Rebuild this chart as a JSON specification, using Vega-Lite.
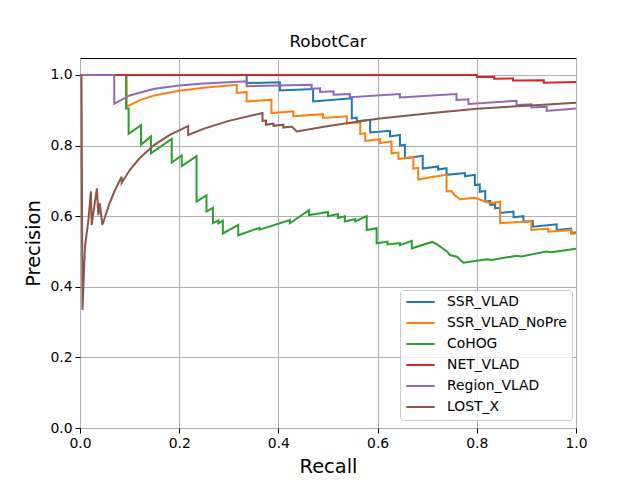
{
"$schema": "https://vega.github.io/schema/vega-lite/v6.json",
"width": 496, "height": 370,
"autosize": {"type": "none"},
"padding": {"left": 80, "top": 58, "right": 64, "bottom": 52},
"background": "white",
"title": {"text": "RobotCar", "font": "DejaVu Sans", "fontSize": 16.7, "fontWeight": "normal", "color": "black", "offset": 7},
"config": {
  "view": {"stroke": "black", "strokeWidth": 1},
  "axis": {"domain": false, "labelFlush": false, "tickColor": "black", "tickSize": 5, "tickWidth": 1, "labelFont": "DejaVu Sans", "labelFontSize": 13.9, "labelColor": "black", "labelPadding": 3, "titleFont": "DejaVu Sans", "titleFontSize": 19.4, "titleFontWeight": "normal", "titleColor": "black", "gridColor": "#b0b0b0", "gridWidth": 1, "gridOpacity": 1}
},
"data": {"values": [
{"s":"SSR_VLAD","r":0,"p":1},{"s":"SSR_VLAD","r":0.336,"p":1},{"s":"SSR_VLAD","r":0.336,"p":0.977},{"s":"SSR_VLAD","r":0.403,"p":0.979},{"s":"SSR_VLAD","r":0.403,"p":0.956},{"s":"SSR_VLAD","r":0.47,"p":0.96},{"s":"SSR_VLAD","r":0.47,"p":0.925},{"s":"SSR_VLAD","r":0.548,"p":0.934},{"s":"SSR_VLAD","r":0.548,"p":0.877},{"s":"SSR_VLAD","r":0.558,"p":0.879},{"s":"SSR_VLAD","r":0.558,"p":0.869},{"s":"SSR_VLAD","r":0.585,"p":0.873},{"s":"SSR_VLAD","r":0.585,"p":0.837},{"s":"SSR_VLAD","r":0.625,"p":0.842},{"s":"SSR_VLAD","r":0.625,"p":0.826},{"s":"SSR_VLAD","r":0.645,"p":0.83},{"s":"SSR_VLAD","r":0.645,"p":0.8},{"s":"SSR_VLAD","r":0.655,"p":0.802},{"s":"SSR_VLAD","r":0.655,"p":0.764},{"s":"SSR_VLAD","r":0.691,"p":0.771},{"s":"SSR_VLAD","r":0.691,"p":0.735},{"s":"SSR_VLAD","r":0.722,"p":0.741},{"s":"SSR_VLAD","r":0.722,"p":0.732},{"s":"SSR_VLAD","r":0.739,"p":0.736},{"s":"SSR_VLAD","r":0.739,"p":0.717},{"s":"SSR_VLAD","r":0.776,"p":0.722},{"s":"SSR_VLAD","r":0.776,"p":0.713},{"s":"SSR_VLAD","r":0.796,"p":0.717},{"s":"SSR_VLAD","r":0.796,"p":0.688},{"s":"SSR_VLAD","r":0.806,"p":0.69},{"s":"SSR_VLAD","r":0.806,"p":0.669},{"s":"SSR_VLAD","r":0.817,"p":0.671},{"s":"SSR_VLAD","r":0.817,"p":0.641},{"s":"SSR_VLAD","r":0.827,"p":0.643},{"s":"SSR_VLAD","r":0.827,"p":0.632},{"s":"SSR_VLAD","r":0.837,"p":0.634},{"s":"SSR_VLAD","r":0.837,"p":0.622},{"s":"SSR_VLAD","r":0.847,"p":0.624},{"s":"SSR_VLAD","r":0.847,"p":0.609},{"s":"SSR_VLAD","r":0.874,"p":0.613},{"s":"SSR_VLAD","r":0.874,"p":0.597},{"s":"SSR_VLAD","r":0.894,"p":0.6},{"s":"SSR_VLAD","r":0.894,"p":0.584},{"s":"SSR_VLAD","r":0.913,"p":0.586},{"s":"SSR_VLAD","r":0.913,"p":0.57},{"s":"SSR_VLAD","r":0.961,"p":0.577},{"s":"SSR_VLAD","r":0.961,"p":0.561},{"s":"SSR_VLAD","r":0.99,"p":0.565},{"s":"SSR_VLAD","r":0.99,"p":0.553},{"s":"SSR_VLAD","r":1.0,"p":0.554},
{"s":"SSR_VLAD_NoPre","r":0,"p":1},{"s":"SSR_VLAD_NoPre","r":0.094,"p":1},{"s":"SSR_VLAD_NoPre","r":0.094,"p":0.91},{"s":"SSR_VLAD_NoPre","r":0.12,"p":0.928},{"s":"SSR_VLAD_NoPre","r":0.15,"p":0.942},{"s":"SSR_VLAD_NoPre","r":0.2,"p":0.955},{"s":"SSR_VLAD_NoPre","r":0.25,"p":0.964},{"s":"SSR_VLAD_NoPre","r":0.316,"p":0.972},{"s":"SSR_VLAD_NoPre","r":0.316,"p":0.949},{"s":"SSR_VLAD_NoPre","r":0.336,"p":0.952},{"s":"SSR_VLAD_NoPre","r":0.336,"p":0.925},{"s":"SSR_VLAD_NoPre","r":0.386,"p":0.93},{"s":"SSR_VLAD_NoPre","r":0.386,"p":0.892},{"s":"SSR_VLAD_NoPre","r":0.43,"p":0.897},{"s":"SSR_VLAD_NoPre","r":0.43,"p":0.883},{"s":"SSR_VLAD_NoPre","r":0.49,"p":0.889},{"s":"SSR_VLAD_NoPre","r":0.49,"p":0.878},{"s":"SSR_VLAD_NoPre","r":0.538,"p":0.883},{"s":"SSR_VLAD_NoPre","r":0.538,"p":0.863},{"s":"SSR_VLAD_NoPre","r":0.565,"p":0.866},{"s":"SSR_VLAD_NoPre","r":0.565,"p":0.833},{"s":"SSR_VLAD_NoPre","r":0.575,"p":0.835},{"s":"SSR_VLAD_NoPre","r":0.575,"p":0.813},{"s":"SSR_VLAD_NoPre","r":0.605,"p":0.818},{"s":"SSR_VLAD_NoPre","r":0.605,"p":0.807},{"s":"SSR_VLAD_NoPre","r":0.628,"p":0.812},{"s":"SSR_VLAD_NoPre","r":0.628,"p":0.778},{"s":"SSR_VLAD_NoPre","r":0.642,"p":0.78},{"s":"SSR_VLAD_NoPre","r":0.642,"p":0.762},{"s":"SSR_VLAD_NoPre","r":0.672,"p":0.768},{"s":"SSR_VLAD_NoPre","r":0.672,"p":0.735},{"s":"SSR_VLAD_NoPre","r":0.682,"p":0.737},{"s":"SSR_VLAD_NoPre","r":0.682,"p":0.704},{"s":"SSR_VLAD_NoPre","r":0.71,"p":0.711},{"s":"SSR_VLAD_NoPre","r":0.739,"p":0.717},{"s":"SSR_VLAD_NoPre","r":0.739,"p":0.67},{"s":"SSR_VLAD_NoPre","r":0.749,"p":0.671},{"s":"SSR_VLAD_NoPre","r":0.755,"p":0.66},{"s":"SSR_VLAD_NoPre","r":0.766,"p":0.648},{"s":"SSR_VLAD_NoPre","r":0.796,"p":0.652},{"s":"SSR_VLAD_NoPre","r":0.81,"p":0.645},{"s":"SSR_VLAD_NoPre","r":0.827,"p":0.637},{"s":"SSR_VLAD_NoPre","r":0.847,"p":0.641},{"s":"SSR_VLAD_NoPre","r":0.847,"p":0.58},{"s":"SSR_VLAD_NoPre","r":0.91,"p":0.586},{"s":"SSR_VLAD_NoPre","r":0.91,"p":0.561},{"s":"SSR_VLAD_NoPre","r":0.944,"p":0.565},{"s":"SSR_VLAD_NoPre","r":0.944,"p":0.556},{"s":"SSR_VLAD_NoPre","r":0.991,"p":0.561},{"s":"SSR_VLAD_NoPre","r":0.991,"p":0.55},{"s":"SSR_VLAD_NoPre","r":1.0,"p":0.551},
{"s":"CoHOG","r":0,"p":1},{"s":"CoHOG","r":0.093,"p":1},{"s":"CoHOG","r":0.093,"p":0.905},{"s":"CoHOG","r":0.098,"p":0.905},{"s":"CoHOG","r":0.098,"p":0.833},{"s":"CoHOG","r":0.123,"p":0.858},{"s":"CoHOG","r":0.123,"p":0.802},{"s":"CoHOG","r":0.143,"p":0.826},{"s":"CoHOG","r":0.143,"p":0.778},{"s":"CoHOG","r":0.185,"p":0.819},{"s":"CoHOG","r":0.185,"p":0.752},{"s":"CoHOG","r":0.205,"p":0.772},{"s":"CoHOG","r":0.205,"p":0.742},{"s":"CoHOG","r":0.235,"p":0.77},{"s":"CoHOG","r":0.235,"p":0.641},{"s":"CoHOG","r":0.255,"p":0.659},{"s":"CoHOG","r":0.255,"p":0.613},{"s":"CoHOG","r":0.268,"p":0.624},{"s":"CoHOG","r":0.268,"p":0.58},{"s":"CoHOG","r":0.279,"p":0.588},{"s":"CoHOG","r":0.279,"p":0.58},{"s":"CoHOG","r":0.288,"p":0.587},{"s":"CoHOG","r":0.288,"p":0.551},{"s":"CoHOG","r":0.319,"p":0.575},{"s":"CoHOG","r":0.319,"p":0.546},{"s":"CoHOG","r":0.362,"p":0.567},{"s":"CoHOG","r":0.362,"p":0.562},{"s":"CoHOG","r":0.423,"p":0.589},{"s":"CoHOG","r":0.423,"p":0.58},{"s":"CoHOG","r":0.462,"p":0.617},{"s":"CoHOG","r":0.462,"p":0.603},{"s":"CoHOG","r":0.5,"p":0.612},{"s":"CoHOG","r":0.5,"p":0.6},{"s":"CoHOG","r":0.52,"p":0.606},{"s":"CoHOG","r":0.52,"p":0.595},{"s":"CoHOG","r":0.534,"p":0.6},{"s":"CoHOG","r":0.534,"p":0.585},{"s":"CoHOG","r":0.555,"p":0.592},{"s":"CoHOG","r":0.555,"p":0.585},{"s":"CoHOG","r":0.578,"p":0.6},{"s":"CoHOG","r":0.578,"p":0.561},{"s":"CoHOG","r":0.598,"p":0.566},{"s":"CoHOG","r":0.598,"p":0.523},{"s":"CoHOG","r":0.62,"p":0.528},{"s":"CoHOG","r":0.62,"p":0.52},{"s":"CoHOG","r":0.645,"p":0.524},{"s":"CoHOG","r":0.645,"p":0.518},{"s":"CoHOG","r":0.669,"p":0.53},{"s":"CoHOG","r":0.669,"p":0.509},{"s":"CoHOG","r":0.71,"p":0.527},{"s":"CoHOG","r":0.72,"p":0.52},{"s":"CoHOG","r":0.73,"p":0.51},{"s":"CoHOG","r":0.74,"p":0.5},{"s":"CoHOG","r":0.746,"p":0.49},{"s":"CoHOG","r":0.76,"p":0.485},{"s":"CoHOG","r":0.773,"p":0.468},{"s":"CoHOG","r":0.82,"p":0.478},{"s":"CoHOG","r":0.83,"p":0.476},{"s":"CoHOG","r":0.88,"p":0.488},{"s":"CoHOG","r":0.89,"p":0.486},{"s":"CoHOG","r":0.94,"p":0.5},{"s":"CoHOG","r":0.95,"p":0.498},{"s":"CoHOG","r":1.0,"p":0.508},
{"s":"NET_VLAD","r":0,"p":1},{"s":"NET_VLAD","r":0.8,"p":1},{"s":"NET_VLAD","r":0.8,"p":0.994},{"s":"NET_VLAD","r":0.835,"p":0.995},{"s":"NET_VLAD","r":0.835,"p":0.989},{"s":"NET_VLAD","r":0.873,"p":0.99},{"s":"NET_VLAD","r":0.873,"p":0.984},{"s":"NET_VLAD","r":0.935,"p":0.985},{"s":"NET_VLAD","r":0.935,"p":0.978},{"s":"NET_VLAD","r":1.0,"p":0.98},
{"s":"Region_VLAD","r":0,"p":1},{"s":"Region_VLAD","r":0.069,"p":1},{"s":"Region_VLAD","r":0.069,"p":0.918},{"s":"Region_VLAD","r":0.1,"p":0.942},{"s":"Region_VLAD","r":0.15,"p":0.961},{"s":"Region_VLAD","r":0.2,"p":0.97},{"s":"Region_VLAD","r":0.25,"p":0.976},{"s":"Region_VLAD","r":0.336,"p":0.982},{"s":"Region_VLAD","r":0.336,"p":0.968},{"s":"Region_VLAD","r":0.467,"p":0.972},{"s":"Region_VLAD","r":0.467,"p":0.961},{"s":"Region_VLAD","r":0.484,"p":0.962},{"s":"Region_VLAD","r":0.484,"p":0.952},{"s":"Region_VLAD","r":0.511,"p":0.954},{"s":"Region_VLAD","r":0.511,"p":0.944},{"s":"Region_VLAD","r":0.544,"p":0.946},{"s":"Region_VLAD","r":0.544,"p":0.937},{"s":"Region_VLAD","r":0.645,"p":0.946},{"s":"Region_VLAD","r":0.645,"p":0.936},{"s":"Region_VLAD","r":0.759,"p":0.946},{"s":"Region_VLAD","r":0.759,"p":0.929},{"s":"Region_VLAD","r":0.783,"p":0.931},{"s":"Region_VLAD","r":0.783,"p":0.918},{"s":"Region_VLAD","r":0.88,"p":0.927},{"s":"Region_VLAD","r":0.88,"p":0.915},{"s":"Region_VLAD","r":0.91,"p":0.917},{"s":"Region_VLAD","r":0.91,"p":0.908},{"s":"Region_VLAD","r":0.941,"p":0.91},{"s":"Region_VLAD","r":0.941,"p":0.898},{"s":"Region_VLAD","r":1.0,"p":0.905},
{"s":"LOST_X","r":0.003,"p":1},{"s":"LOST_X","r":0.005,"p":0.334},{"s":"LOST_X","r":0.01,"p":0.514},{"s":"LOST_X","r":0.017,"p":0.589},{"s":"LOST_X","r":0.022,"p":0.67},{"s":"LOST_X","r":0.0235,"p":0.575},{"s":"LOST_X","r":0.034,"p":0.679},{"s":"LOST_X","r":0.037,"p":0.603},{"s":"LOST_X","r":0.04,"p":0.636},{"s":"LOST_X","r":0.045,"p":0.575},{"s":"LOST_X","r":0.06,"p":0.638},{"s":"LOST_X","r":0.07,"p":0.672},{"s":"LOST_X","r":0.084,"p":0.712},{"s":"LOST_X","r":0.084,"p":0.694},{"s":"LOST_X","r":0.1,"p":0.73},{"s":"LOST_X","r":0.12,"p":0.764},{"s":"LOST_X","r":0.15,"p":0.802},{"s":"LOST_X","r":0.181,"p":0.83},{"s":"LOST_X","r":0.218,"p":0.855},{"s":"LOST_X","r":0.218,"p":0.83},{"s":"LOST_X","r":0.25,"p":0.848},{"s":"LOST_X","r":0.3,"p":0.87},{"s":"LOST_X","r":0.368,"p":0.892},{"s":"LOST_X","r":0.368,"p":0.87},{"s":"LOST_X","r":0.375,"p":0.871},{"s":"LOST_X","r":0.375,"p":0.859},{"s":"LOST_X","r":0.39,"p":0.862},{"s":"LOST_X","r":0.39,"p":0.856},{"s":"LOST_X","r":0.41,"p":0.859},{"s":"LOST_X","r":0.41,"p":0.851},{"s":"LOST_X","r":0.427,"p":0.854},{"s":"LOST_X","r":0.437,"p":0.84},{"s":"LOST_X","r":0.504,"p":0.856},{"s":"LOST_X","r":0.6,"p":0.876},{"s":"LOST_X","r":0.7,"p":0.891},{"s":"LOST_X","r":0.8,"p":0.904},{"s":"LOST_X","r":0.9,"p":0.913},{"s":"LOST_X","r":1.0,"p":0.921}
]},
"mark": {"type": "line", "strokeWidth": 2, "clip": true},
"encoding": {
  "x": {"field": "r", "type": "quantitative", "scale": {"domain": [0, 1], "nice": false, "zero": false}, "axis": {"title": "Recall", "values": [0, 0.2, 0.4, 0.6, 0.8, 1], "format": ".1f", "titlePadding": 8}},
  "y": {"field": "p", "type": "quantitative", "scale": {"domain": [0, 1.048], "nice": false}, "axis": {"title": "Precision", "values": [0, 0.2, 0.4, 0.6, 0.8, 1], "format": ".1f", "titlePadding": 6}},
  "color": {"field": "s", "type": "nominal",
    "scale": {"domain": ["SSR_VLAD", "SSR_VLAD_NoPre", "CoHOG", "NET_VLAD", "Region_VLAD", "LOST_X"], "range": ["#1f77b4", "#ff7f0e", "#2ca02c", "#d62728", "#9467bd", "#8c564b"]},
    "legend": {"title": null, "orient": "none", "legendX": 320, "legendY": 232, "symbolType": "stroke", "symbolStrokeWidth": 2, "symbolSize": 800, "clipHeight": 14.2, "labelFont": "DejaVu Sans", "labelFontSize": 13.9, "labelColor": "black", "labelOffset": 11, "padding": 5, "rowPadding": 6, "fillColor": "rgba(255,255,255,0.8)", "strokeColor": "#cccccc", "cornerRadius": 3}},
  "order": {"value": null}
}
}
